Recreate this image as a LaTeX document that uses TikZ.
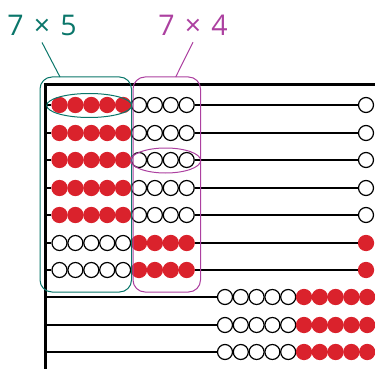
\documentclass[tikz,border=0pt]{standalone}
\usepackage{fontspec}
\setsansfont{Open Sans}
\usetikzlibrary{shapes.geometric}
\definecolor{abteal}{RGB}{10,118,106}
\definecolor{abpink}{RGB}{172,64,160}
\definecolor{abred}{RGB}{218,34,44}

\begin{document}
\begin{tikzpicture}[
  x=1pt, y=-1pt,
  bead/.style={circle, draw, line width=1.2pt, fill=white, inner sep=0pt, minimum size=15pt},
  redbead/.style={circle, fill=abred, inner sep=0pt, minimum size=16.3pt},
  wire/.style={line width=2pt},
  frame/.style={line width=3pt},
  group/.style={rectangle, draw, rounded corners=12pt, line width=1pt, inner sep=0pt, minimum height=215pt},
  ring/.style={ellipse, draw, line width=1pt, inner sep=0pt},
  tag/.style={font=\sffamily\fontsize{28.5}{28.5}\selectfont, inner sep=6pt, anchor=base}
]
\useasboundingbox (0,0) rectangle (375,369);

% frame of the abacus
\draw[frame] (375,85) -- (45,85) -- (45,369);

% upper rows: 7 rows of 5 + 4 beads and one bead at the right end
\foreach \r in {1,...,7} {
  \pgfmathsetmacro\y{round(105+27.5*(\r-1))}
  \coordinate (w\r) at (45,\y);
  \ifnum\r<6
    \node[bead] (e\r) at (366,\y) {};
  \else
    \node[redbead] (e\r) at (366,\y) {};
  \fi
  \foreach \k in {0,...,8} {
    \pgfmathtruncatemacro\isred{(\r<6 && \k<5) || (\r>5 && \k>4)}
    \ifnum\isred=1
      \node[redbead] (b\r-\k) at (59.5+15.9*\k,\y) {};
    \else
      \node[bead] (b\r-\k) at (59.5+15.9*\k,\y) {};
    \fi
  }
  \draw[wire] (w\r) -- (b\r-0);
  \draw[wire] (b\r-8) -- (e\r);
}

% lower rows: 5 white and 5 red beads pushed to the right
\foreach \r in {8,9,10} {
  \pgfmathsetmacro\y{round(297+27.5*(\r-8))}
  \coordinate (w\r) at (45,\y);
  \foreach \k in {0,...,9} {
    \ifnum\k<5
      \node[bead] (b\r-\k) at (225+15.8*\k,\y) {};
    \else
      \node[redbead] (b\r-\k) at (225+15.8*\k,\y) {};
    \fi
  }
  \draw[wire] (w\r) -- (b\r-0);
}

% groups
\node[group, draw=abteal, minimum width=91.5pt] (five) at (85.75,184.5) {};
\node[group, draw=abpink, minimum width=67.5pt] (four) at (166.75,184.5) {};
\node[ring, draw=abteal, minimum width=85pt, minimum height=24pt] (rowfive) at (89.2,105.5) {};
\node[ring, draw=abpink, minimum width=70pt, minimum height=25pt] (rowfour) at (165.7,160.5) {};

% labels
\node[tag, text=abteal] (lab5) at (42,36) {7\hspace{0.36em}×\hspace{0.36em}5};
\node[tag, text=abpink] (lab4) at (193,36) {7\hspace{0.36em}×\hspace{0.36em}4};
\coordinate (t5) at (60,77);
\coordinate (t4) at (175.7,77);
\draw[abteal, line width=1pt] (lab5.south) -- (t5);
\draw[abpink, line width=1pt] (lab4.south) -- (t4);
\end{tikzpicture}
\end{document}
